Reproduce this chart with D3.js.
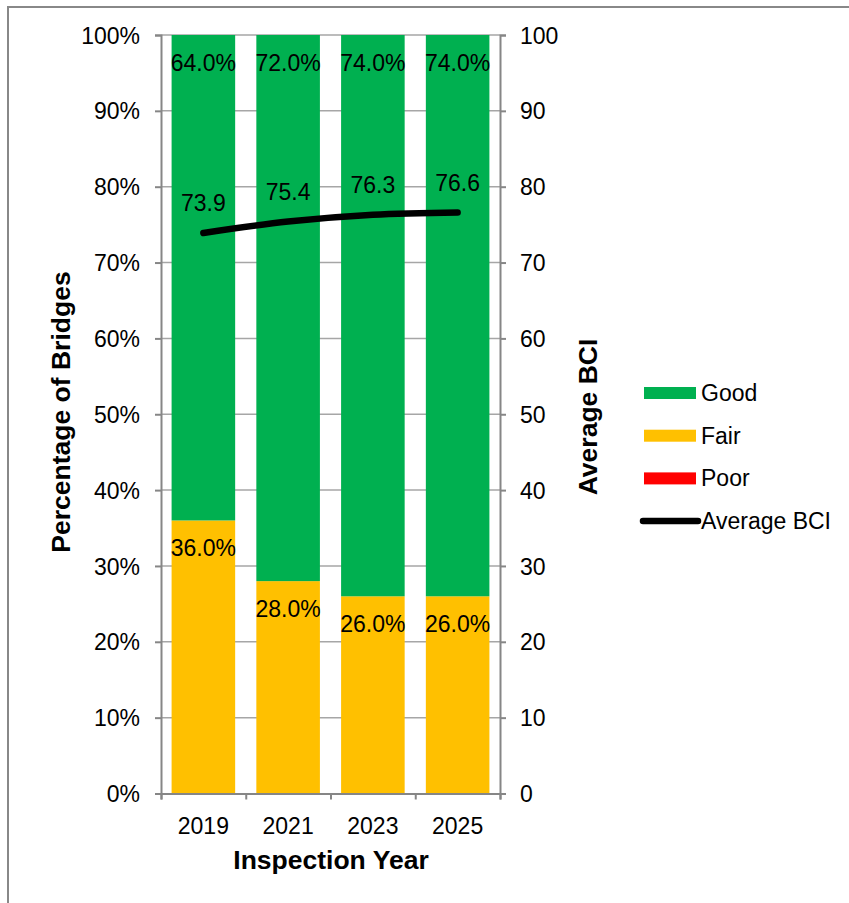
<!DOCTYPE html>
<html><head><meta charset="utf-8">
<script src="https://cdn.jsdelivr.net/npm/d3@7"></script>
<style>body{margin:0;background:#fff;} text{font-family:"Liberation Sans",Arial,sans-serif;}</style>
</head><body>
<svg id="c" width="849" height="903"></svg>
<script>
const years = ["2019","2021","2023","2025"];
const good = [64.0, 72.0, 74.0, 74.0];
const fair = [36.0, 28.0, 26.0, 26.0];
const poor = [0, 0, 0, 0];
const avgBCI = [73.9, 75.4, 76.3, 76.6];
const leftTicks = [0,10,20,30,40,50,60,70,80,90,100];
const rightTicks = [0,10,20,30,40,50,60,70,80,90,100];
const seriesNames = ["Good","Fair","Poor","Average BCI"];
const colors = {Good:"#00B050", Fair:"#FFC000", Poor:"#FF0000", "Average BCI":"#000000"};

const svg = d3.select("#c");
const L = 161, R = 500, T = 35, B = 793.5;
const gridCol = "#a6a6a6", axisCol = "#868686";
const FS = 23, TFS = 26.5;

// outer frame
svg.append("rect").attr("x",8).attr("y",7).attr("width",900).attr("height",1000)
  .attr("fill","none").attr("stroke","#888").attr("stroke-width",2);

const x = d3.scaleBand().domain(years).range([L,R]).paddingInner(0.25).paddingOuter(0.125);
const yL = d3.scaleLinear().domain([0,100]).range([B,T]);
const yR = d3.scaleLinear().domain([0,100]).range([B,T]);

// gridlines
svg.append("g").selectAll("line").data(leftTicks.filter(d=>d>0)).join("line")
  .attr("x1",L).attr("x2",R).attr("y1",d=>yL(d)).attr("y2",d=>yL(d))
  .attr("stroke",gridCol).attr("stroke-width",1.5);

// stacked bars
const rows = years.map((y,i)=>({year:y, Fair:fair[i], Good:good[i], Poor:poor[i]}));
const stack = d3.stack().keys(["Poor","Fair","Good"])(rows);
svg.append("g").selectAll("g").data(stack).join("g").attr("fill",d=>colors[d.key])
  .selectAll("rect").data(d=>d).join("rect")
  .attr("x",d=>x(d.data.year)).attr("width",x.bandwidth())
  .attr("y",d=>yL(d[1])).attr("height",d=>yL(d[0])-yL(d[1]));

// axes
const axL = svg.append("g").attr("transform",`translate(${L},0)`)
  .call(d3.axisLeft(yL).tickValues(leftTicks).tickFormat(d=>d+"%").tickSize(6).tickPadding(15));
const axR = svg.append("g").attr("transform",`translate(${R},0)`)
  .call(d3.axisRight(yR).tickValues(rightTicks).tickFormat(d=>d).tickSize(6).tickPadding(14));
const xb = d3.scaleLinear().domain([0,4]).range([L,R]);
const axB = svg.append("g").attr("transform",`translate(0,${B})`)
  .call(d3.axisBottom(xb).tickValues([0,1,2,3,4]).tickFormat("").tickSize(6));
[axL,axR,axB].forEach(a=>{
  a.select(".domain").attr("stroke",axisCol).attr("stroke-width",2);
  a.selectAll(".tick line").attr("stroke",axisCol).attr("stroke-width",2);
  a.selectAll("text").attr("font-size",FS).attr("fill","#000").attr("font-family","Liberation Sans, Arial, sans-serif");
});
axL.selectAll(".tick text").attr("dy","0.35em");
axR.selectAll(".tick text").attr("dy","0.35em");
svg.append("g").selectAll("text").data(years).join("text")
  .attr("x",d=>x(d)+x.bandwidth()/2).attr("y",B+32).attr("text-anchor","middle").attr("dy","0.35em")
  .attr("font-size",FS).text(d=>d);

// bar labels
svg.append("g").selectAll("text").data(rows).join("text")
  .attr("x",d=>x(d.year)+x.bandwidth()/2).attr("y",d=>yL(100)+28).attr("dy","0.35em")
  .attr("text-anchor","middle").attr("font-size",FS).text(d=>d.Good.toFixed(1)+"%");
svg.append("g").selectAll("text").data(rows).join("text")
  .attr("x",d=>x(d.year)+x.bandwidth()/2).attr("y",d=>yL(d.Fair)+28).attr("dy","0.35em")
  .attr("text-anchor","middle").attr("font-size",FS).text(d=>d.Fair.toFixed(1)+"%");

// line
const line = d3.line().x((d,i)=>x(years[i])+x.bandwidth()/2).y(d=>yR(d)).curve(d3.curveMonotoneX);
svg.append("path").datum(avgBCI).attr("d",line).attr("fill","none")
  .attr("stroke","#000").attr("stroke-width",6.5).attr("stroke-linecap","round");
svg.append("g").selectAll("text").data(avgBCI).join("text")
  .attr("x",(d,i)=>x(years[i])+x.bandwidth()/2).attr("y",d=>yR(d)-30).attr("dy","0.35em")
  .attr("text-anchor","middle").attr("font-size",FS).text(d=>d.toFixed(1));

// titles
svg.append("text").attr("transform",`translate(61,412) rotate(-90)`).attr("text-anchor","middle")
  .attr("dy","0.35em").attr("font-size",TFS).attr("font-weight","bold").text("Percentage of Bridges");
svg.append("text").attr("transform",`translate(588,417) rotate(-90)`).attr("text-anchor","middle")
  .attr("dy","0.35em").attr("font-size",TFS).attr("font-weight","bold").text("Average BCI");
svg.append("text").attr("x",331).attr("y",860).attr("text-anchor","middle").attr("dy","0.35em")
  .attr("font-size",TFS).attr("font-weight","bold").text("Inspection Year");

// legend
const lg = svg.append("g");
seriesNames.forEach((n,i)=>{
  const cy = 393 + i*42.7;
  if(n==="Average BCI"){
    lg.append("line").attr("x1",643).attr("x2",698).attr("y1",cy).attr("y2",cy)
      .attr("stroke","#000").attr("stroke-width",6.5).attr("stroke-linecap","round");
  } else {
    lg.append("rect").attr("x",644).attr("y",cy-6).attr("width",52).attr("height",12).attr("fill",colors[n]);
  }
  lg.append("text").attr("x",701).attr("y",cy).attr("dy","0.35em").attr("font-size",FS).text(n);
});
</script>
</body></html>
